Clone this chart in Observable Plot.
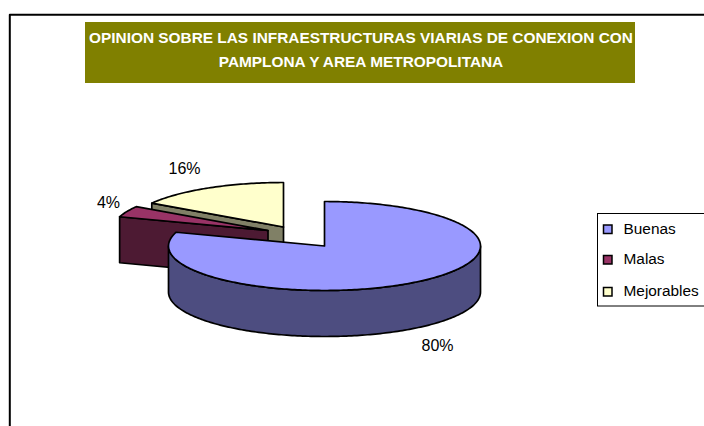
<!DOCTYPE html>
<html lang="es">
<head>
<meta charset="utf-8">
<script src="https://cdn.jsdelivr.net/npm/d3@7"></script>
<script src="https://cdn.jsdelivr.net/npm/@observablehq/plot@0.6"></script>
<style>
html,body{margin:0;padding:0;background:#fff;overflow:hidden}
svg{display:block}
</style>
</head>
<body>
<div id="chart"></div>
<script>
// Data
const categories = ["Buenas", "Malas", "Mejorables"];
const shares = [80, 4, 16];
const sliceColors = ["#9999FF", "#993366", "#FFFFCC"];
const titleLines = [
  "OPINION SOBRE LAS INFRAESTRUCTURAS VIARIAS DE CONEXION CON",
  "PAMPLONA Y AREA METROPOLITANA"
];

// Drawing layout (screen units of the x/y scales)
const rx = 156, ry = 44.5, depth = 46;
const apexes = [[324, 245.5], [267.5, 230], [283, 226.5]];
const labelAt = [[437, 345], [108, 202], [184, 168]];
const legendRows = [229.5, 260, 292];
const ink = "#000";
const font = "Liberation Sans, Arial, sans-serif";

// Angles are clockwise from 12 o'clock, from cumulated shares
const total = d3.sum(shares);
const cum = d3.cumsum(shares);
const halve = c => {
  const k = d3.rgb(c);
  return d3.rgb(k.r * 0.5, k.g * 0.5, k.b * 0.5).formatHex();
};
const slices = categories.map((name, i) => ({
  name, i, color: sliceColors[i], side: halve(sliceColors[i]),
  a0: (i ? cum[i - 1] : 0) / total * 360,
  a1: cum[i] / total * 360,
  cx: apexes[i][0], cy: apexes[i][1]
}));
const pt = (s, deg, drop = 0) => {
  const r = deg * Math.PI / 180;
  return {x: s.cx + rx * Math.sin(r), y: s.cy - ry * Math.cos(r) + drop};
};
const arc = (s, from, to, drop = 0) => {
  const n = Math.max(2, Math.ceil(Math.abs(to - from)));
  return d3.range(n + 1).map(k => pt(s, from + (to - from) * k / n, drop));
};
const topFace = s => [{x: s.cx, y: s.cy}, ...arc(s, s.a0, s.a1), {x: s.cx, y: s.cy}];
// A flat radial wall between the apex and the rim at one angle
const radialWall = (s, deg) => {
  const a = pt(s, deg), b = pt(s, deg, depth);
  return [{x: s.cx, y: s.cy}, a, b, {x: s.cx, y: s.cy + depth}, {x: s.cx, y: s.cy}];
};
// The front wall of the rim, from 90° to 270° of the arc
const frontWall = s => [...arc(s, 90, 270), ...arc(s, 270, 90, depth), pt(s, 90)];

const [buenas, malas, mejorables] = slices;
const poly = (points, fill) =>
  Plot.line(points, {x: "x", y: "y", fill, stroke: ink, strokeWidth: 1.7,
    strokeLinejoin: "round", curve: "linear"});

const chart = Plot.plot({
  width: 704, height: 426,
  margin: 0,
  x: {domain: [0, 704], range: [0, 704], axis: null},
  y: {domain: [0, 426], range: [0, 426], axis: null},
  style: {background: "#fff", fontFamily: font},
  marks: [
    // outer chart frame (top and left edges only, the rest is cropped)
    Plot.line([{x: 9.3, y: 426}, {x: 9.3, y: 14.3}, {x: 704, y: 14.3}],
      {x: "x", y: "y", stroke: ink, strokeWidth: 2}),

    // title band
    Plot.rect([0], {x1: 85, x2: 635, y1: 22, y2: 83, fill: "#808000"}),
    Plot.text(titleLines, {
      x: 360.5, y: (d, i) => [37.5, 61.5][i], text: d => d,
      fill: "#fff", fontSize: 15.4, fontWeight: "bold", fontFamily: font
    }),

    // Mejorables: cut face, then top
    poly(radialWall(mejorables, mejorables.a0), mejorables.side),
    poly(topFace(mejorables), mejorables.color),

    // Malas: cut face, then top
    poly(radialWall(malas, malas.a0), malas.side),
    poly(topFace(malas), malas.color),

    // Buenas: front wall, then top
    poly(frontWall(buenas), buenas.side),
    poly(topFace(buenas), buenas.color),

    // percentage labels
    Plot.text(slices, {
      x: d => labelAt[d.i][0], y: d => labelAt[d.i][1],
      text: d => `${shares[d.i]}%`,
      fill: ink, fontSize: 16, fontFamily: font
    }),

    // legend
    Plot.rect([0], {x1: 597.5, x2: 712, y1: 213.5, y2: 306, fill: "#fff", stroke: ink, strokeWidth: 1}),
    Plot.rect(slices, {
      x1: 603.5, x2: 612,
      y1: d => legendRows[d.i] - 4.5, y2: d => legendRows[d.i] + 4,
      fill: d => d.color, stroke: ink, strokeWidth: 1.5
    }),
    Plot.text(slices, {
      x: 623, y: d => legendRows[d.i] - 1, text: d => d.name,
      textAnchor: "start", fill: ink, fontSize: 15.4, fontFamily: font
    })
  ]
});
document.getElementById("chart").append(chart);
</script>
</body>
</html>
